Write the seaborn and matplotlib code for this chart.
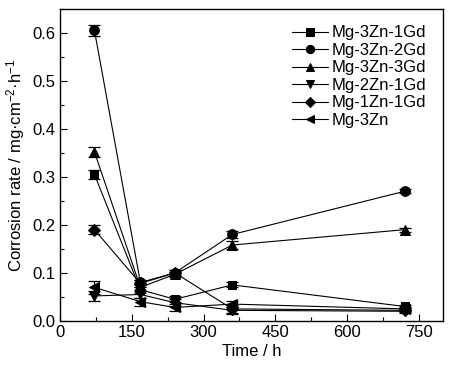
import numpy as np
import pandas as pd
import matplotlib
matplotlib.use("Agg")
import matplotlib.pyplot as plt
import seaborn as sns
from matplotlib.ticker import MultipleLocator

# Immersion time (h)
times = [72, 168, 240, 360, 720]

alloys = ['Mg-3Zn-1Gd', 'Mg-3Zn-2Gd', 'Mg-3Zn-3Gd', 'Mg-2Zn-1Gd', 'Mg-1Zn-1Gd', 'Mg-3Zn']

# Corrosion rate (mg cm^-2 h^-1)
rate_3zn1gd = [0.305, 0.065, 0.045, 0.075, 0.030]
rate_3zn2gd = [0.605, 0.080, 0.100, 0.180, 0.270]
rate_3zn3gd = [0.352, 0.070, 0.097, 0.158, 0.190]
rate_2zn1gd = [0.052, 0.055, 0.038, 0.022, 0.020]
rate_1zn1gd = [0.190, 0.078, 0.100, 0.025, 0.022]
rate_3zn = [0.070, 0.040, 0.028, 0.035, 0.025]

# error bars (std)
err_3zn1gd = [0.009, 0.006, 0.006, 0.005, 0.004]
err_3zn2gd = [0.011, 0.006, 0.005, 0.007, 0.004]
err_3zn3gd = [0.010, 0.006, 0.005, 0.008, 0.004]
err_2zn1gd = [0.010, 0.008, 0.007, 0.007, 0.004]
err_1zn1gd = [0.010, 0.008, 0.006, 0.008, 0.004]
err_3zn = [0.014, 0.008, 0.007, 0.007, 0.004]

rates = [rate_3zn1gd, rate_3zn2gd, rate_3zn3gd, rate_2zn1gd, rate_1zn1gd, rate_3zn]
errs = [err_3zn1gd, err_3zn2gd, err_3zn3gd, err_2zn1gd, err_1zn1gd, err_3zn]
markers = ['s', 'o', '^', 'v', 'D', '<']
msizes = [6, 7, 7, 7, 6, 7]

rows = []
for alloy, r, e in zip(alloys, rates, errs):
    for t, v, s in zip(times, r, e):
        rows.append({'Time': t, 'Rate': v, 'Err': s, 'Alloy': alloy})
df = pd.DataFrame(rows)

sns.set_style("ticks")
plt.rcParams['font.family'] = ['Liberation Sans', 'DejaVu Sans']
plt.rcParams['mathtext.default'] = 'regular'
plt.rcParams['text.color'] = 'black'
plt.rcParams['axes.labelcolor'] = 'black'
plt.rcParams['xtick.color'] = 'black'
plt.rcParams['ytick.color'] = 'black'

fig = plt.figure(figsize=(4.58, 3.68), dpi=100)
ax = fig.add_axes([0.131, 0.128, 0.836, 0.848])

for alloy, m, ms in zip(alloys, markers, msizes):
    sub = df[df['Alloy'] == alloy]
    ax.errorbar(sub['Time'], sub['Rate'], yerr=sub['Err'], fmt='none',
                ecolor='black', elinewidth=0.9, capsize=4, capthick=0.9, zorder=2)
    sns.lineplot(data=sub, x='Time', y='Rate', ax=ax, color='black',
                 marker=m, markersize=ms, markeredgecolor='black',
                 linewidth=0.8, label=alloy, zorder=3)

ax.set_xlim(0, 800)
ax.set_ylim(0, 0.65)
ax.xaxis.set_major_locator(MultipleLocator(150))
ax.xaxis.set_minor_locator(MultipleLocator(75))
ax.yaxis.set_major_locator(MultipleLocator(0.1))
ax.yaxis.set_minor_locator(MultipleLocator(0.05))
ax.yaxis.set_major_formatter(matplotlib.ticker.FormatStrFormatter('%.1f'))
ax.tick_params(which='major', direction='in', length=5, width=0.8, labelsize=12, pad=3)
ax.tick_params(which='minor', direction='in', length=3, width=0.8)
for sp in ax.spines.values():
    sp.set_linewidth(1)
    sp.set_color('black')

ax.set_xlabel('Time / h', fontsize=12, labelpad=3)
ax.set_ylabel('Corrosion rate / mg·cm$^{-2}$·h$^{-1}$', fontsize=12, labelpad=4)

leg = ax.legend(loc='upper right', frameon=False, fontsize=12, handlelength=2.2,
                handletextpad=0.2, labelspacing=0.15, borderaxespad=0.6, markerscale=0.85)
for txt in leg.get_texts():
    txt.set_color('black')

fig.savefig('out.png', dpi=100)
